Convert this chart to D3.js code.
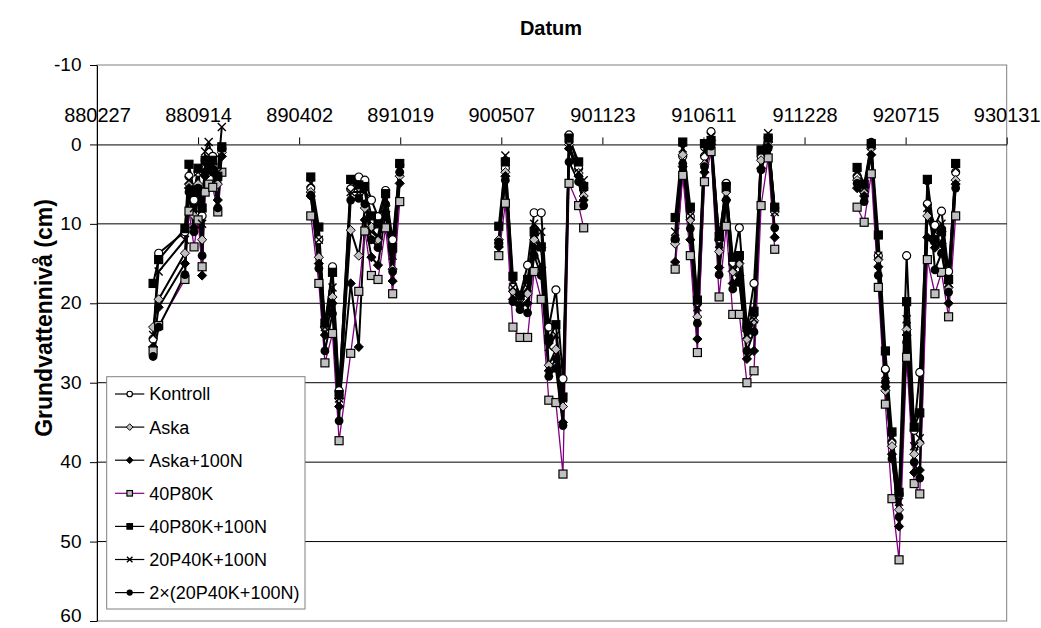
<!DOCTYPE html>
<html>
<head>
<meta charset="utf-8">
<script src="https://cdn.jsdelivr.net/npm/d3@7"></script>
<style>
  body { margin: 0; background: #fff; }
  svg { display: block; }
  text { font-family: Arial, "Liberation Sans", sans-serif; }
</style>
</head>
<body>
<svg id="chart" width="1041" height="628"></svg>
<script>
// Measurement dates (YYMMDD); null marks the break between seasons
const dates = [
  "880617","880628","880819","880827","880906","880914","880922","880928","881005","881013","881023","881031", null,
  "890425","890511","890523","890607","890620","890713","890729","890810","890823","890905","890920","891004","891018", null,
  "900502","900515","900530","900613","900628","900711","900725","900809","900823","900906","900918","901007","901017", null,
  "910416","910501","910516","910530","910613","910626","910712","910726","910808","910821","910905","910919","911003","911017","911030", null,
  "920410","920424","920508","920522","920605","920618","920702","920717","920801","920812","920827","920911","920924","921008","921022"
];

// Groundwater level below surface (cm) per treatment
const kontroll = [
  24.5,13.7,11,4,7,3.5,9,2,1,1.5,4,0.5, null,
  5.5,12,23,15.4,31,5.6,4.1,4.5,7,9.1,5.8,12,2.6, null,
  12.5,3,18,19,15.2,8.6,8.6,23,18.3,29.5,-1.2,3,5.5, null,
  12,1.5,9.1,20,1.5,-1.6,12,4.9,15,10.5,23,17.5,1.5,-0.8,8, null,
  4,5.5,0,14,28.3,37.5,44,14,36,28.7,7.5,10.2,8.4,16,3.5
];
const aska = [
  23,19.5,13.7,5,9,5,12,3,2.5,2.5,5,1, null,
  6,14.2,23,19.2,32,10.8,14,8,10.4,12,7.7,15.7,4, null,
  12,3.5,18.5,19.5,18.8,12,13,27.8,25.8,33,0,3.6,6.5, null,
  12.5,1.3,9.5,21.7,2.5,-0.5,13.5,6,16,15,24.5,22.2,2,-0.3,8.5, null,
  4.5,6,0.5,14.5,31,38,46,23.3,39,37.6,9,12,11,18,4.5
];
const askaN = [
  25.5,20.5,15,5.5,10.5,6,16.5,4,3,3,7,1.5, null,
  6.5,15,24,20,33,17.5,25.5,9.5,14.2,15.2,8.5,17.2,4.9, null,
  12.9,4,19.5,20.3,20,13,15.5,28.5,27,35,0.5,4,7, null,
  14.8,2.8,12,24.5,3.5,0,15.5,7,17.5,16.5,27,26,3,0.3,11.7, null,
  5.5,6.5,1.3,15.4,30.5,39,48.1,24,41.3,41,11.7,13,12.5,20,5
];
const p40k80 = [
  26,22.8,17,8.4,12.9,9.5,15.4,6,5,5.4,8.5,3.5, null,
  9,17.5,27.5,23.8,37.3,26.3,18.5,10.9,16.5,17,10.5,18.8,7.2, null,
  14,7.4,23,24.3,24.3,16,19.5,32.2,32.5,41.5,4.9,7.7,10.5, null,
  15.7,3.9,14,26.2,4.7,0.9,19.2,10.3,21.4,21.4,30,28.5,7.7,1.7,13.2, null,
  7.9,9.8,3.7,18,32.7,44.6,52.3,26.8,42.7,44,14.5,18.8,16.1,21.7,9
];
const p40k80N = [
  17.5,14.5,10.6,2.5,6,3,8,2,2.5,2,4,0.3, null,
  4.1,10.4,22.5,16.1,31.5,4.4,5.1,5.3,9,10,6.2,13,2.4, null,
  10.3,2.2,16.6,19,17,11,12.9,24.5,22.7,31.8,-0.8,2.2,5.3, null,
  9.2,-0.3,7.9,19.6,-0.1,-0.5,11.6,5.3,14.2,14,23,21,0.7,-0.8,7.9, null,
  2.9,5,-0.1,11.4,26,36.2,43.8,19.8,35.6,33.8,4.4,12,11,17,2.4
];
const p20k40N = [
  24,16,12,4.5,8,3.5,10,0.9,-0.3,2,3.5,-2.2, null,
  4.9,12,23,18,32,6,6,6,11,11.5,7,14,3, null,
  12.5,1.4,18,19.5,18,10,11,25.5,24,32,0.2,3.5,4.5, null,
  11,0.5,9,20.5,1,-1,12.5,5.5,15.5,14.5,24,22,1,-1.4,8.5, null,
  3.5,5.5,0.2,14,29,37,45,22,38,37,8,11,10,17.5,3
];
const dubbel = [
  26.7,23,16.4,6,11,5.5,14,3.5,3,3.5,8,0.5, null,
  6.4,15.6,26,21.3,34.8,7,6.8,7.5,12,13,7.5,16,3.5, null,
  12.3,4.5,19.8,20.8,21.2,14,16.5,29.2,28.2,35.4,2.2,4.7,7.7, null,
  11.9,2.4,10.6,22.5,2.8,0.2,16.4,7,18.2,17.4,26,23.6,3.2,0.5,10.5, null,
  4.9,7.2,-0.3,16.5,29.9,39.6,46.9,24.9,40,42,4.6,15.8,13.7,18.6,5.5
];

const seriesNames = ["Kontroll","Aska","Aska+100N","40P80K","40P80K+100N","20P40K+100N","2×(20P40K+100N)"];
const seriesValues = [kontroll, aska, askaN, p40k80, p40k80N, p20k40N, dubbel];
const markerTypes = ["openCircle","grayDiamond","blackDiamond","graySquare","blackSquare","cross","dot"];
const lineColors = ["#000","#000","#000","#800080","#000","#000","#000"];

const xTickLabels = ["880227","880914","890402","891019","900507","901123","910611","911228","920715","930131"];
const yTicks = [-10,0,10,20,30,40,50,60];
const gridValues = [10,20,30,40,50];

const parse = d3.utcParse("%y%m%d");
const fmt = d3.utcFormat("%y%m%d");

const svg = d3.select("#chart");
const plotLeft = 97, plotRight = 1006.7, plotTop = 65, plotBottom = 621;

const x = d3.scaleUtc()
  .domain([parse(xTickLabels[0]), parse(xTickLabels[xTickLabels.length - 1])])
  .range([plotLeft, plotRight]);
const y = d3.scaleLinear().domain([-10, 60]).range([plotTop, plotBottom]);

// plot area frame
svg.append("rect")
  .attr("x", plotLeft).attr("y", plotTop)
  .attr("width", plotRight - plotLeft).attr("height", plotBottom - plotTop)
  .attr("fill", "#fff").attr("stroke", "#808080").attr("stroke-width", 1);

// horizontal gridlines
svg.append("g").selectAll("line").data(gridValues).join("line")
  .attr("x1", plotLeft).attr("x2", plotRight)
  .attr("y1", d => y(d)).attr("y2", d => y(d))
  .attr("stroke", "#000").attr("stroke-width", 1);

// y axis (reversed: depth grows downward)
const yAxis = svg.append("g")
  .attr("transform", `translate(${plotLeft},0)`)
  .call(d3.axisLeft(y).tickValues(yTicks).tickFormat(d => String(d))
    .tickSize(7).tickSizeOuter(0).tickPadding(8.5));
yAxis.selectAll("text").attr("font-size", 19).attr("fill", "#000")
  .attr("dy", d => d === 60 ? "0.05em" : "0.3em");   // lift the bottom label so it stays on the page
yAxis.select(".domain").attr("stroke", "#000");

// date axis drawn along the zero line, labels above
const xAxis = svg.append("g")
  .attr("transform", `translate(0,${y(0)})`)
  .call(d3.axisTop(x).tickValues(xTickLabels.map(parse)).tickFormat(fmt)
    .tickSize(7).tickSizeOuter(0).tickPadding(15.5));
xAxis.selectAll("text").attr("font-size", 20).attr("fill", "#000");
xAxis.select(".domain").attr("stroke", "#000");

// titles
svg.append("text")
  .attr("x", 551).attr("y", 35)
  .attr("text-anchor", "middle")
  .attr("font-size", 20).attr("font-weight", "bold")
  .text("Datum");
svg.append("text")
  .attr("transform", "translate(52,318) rotate(-90)")
  .attr("text-anchor", "middle")
  .attr("font-size", 23).attr("font-weight", "bold")
  .text("Grundvattennivå (cm)");

// series records
const series = seriesNames.map((name, i) => ({
  name,
  marker: markerTypes[i],
  color: lineColors[i],
  points: dates.map((d, j) => ({ date: d ? parse(d) : null, v: seriesValues[i][j] }))
}));

const line = d3.line()
  .defined(p => p.date && p.v != null)
  .x(p => x(p.date))
  .y(p => y(p.v));

function drawMarker(g, type, s) {
  const r = s / 2;
  switch (type) {
    case "openCircle":
      g.append("circle").attr("r", r).attr("fill", "#fff").attr("stroke", "#000").attr("stroke-width", 1.2);
      break;
    case "dot":
      g.append("circle").attr("r", r + 0.4).attr("fill", "#000");
      break;
    case "grayDiamond":
    case "blackDiamond":
      g.append("path")
        .attr("d", `M0,${-r - 0.6}L${r + 0.6},0L0,${r + 0.6}L${-r - 0.6},0Z`)
        .attr("fill", type === "grayDiamond" ? "#c0c0c0" : "#000")
        .attr("stroke", "#000").attr("stroke-width", 1);
      break;
    case "graySquare":
    case "blackSquare":
      g.append("rect").attr("x", -r).attr("y", -r).attr("width", s).attr("height", s)
        .attr("fill", type === "graySquare" ? "#c0c0c0" : "#000")
        .attr("stroke", "#000").attr("stroke-width", 1.2);
      break;
    case "cross":
      g.append("path")
        .attr("d", `M${-r},${-r}L${r},${r}M${-r},${r}L${r},${-r}`)
        .attr("stroke", "#000").attr("stroke-width", 1.4).attr("fill", "none");
      break;
  }
}

// lines, then markers on top
const plot = svg.append("g");
series.forEach(s => {
  plot.append("path")
    .attr("d", line(s.points))
    .attr("fill", "none")
    .attr("stroke", s.color)
    .attr("stroke-width", s.color === "#000" ? 2 : 1.3)
    .attr("stroke-linejoin", "round");
});
series.forEach(s => {
  s.points.filter(p => p.date && p.v != null).forEach(p => {
    const g = plot.append("g").attr("transform", `translate(${x(p.date)},${y(p.v)})`);
    drawMarker(g, s.marker, 8);
  });
});

// legend
const lg = svg.append("g");
lg.append("rect")
  .attr("x", 106.7).attr("y", 376.7).attr("width", 198.3).attr("height", 232.3)
  .attr("fill", "#fff").attr("stroke", "#808080").attr("stroke-width", 1);
series.forEach((s, i) => {
  const yy = 394 + i * 33.1;
  const row = lg.append("g").attr("transform", `translate(0,${yy})`);
  row.append("line").attr("x1", 115).attr("x2", 144.3).attr("y1", 0).attr("y2", 0)
    .attr("stroke", s.color).attr("stroke-width", 1.2);
  const m = row.append("g").attr("transform", "translate(129.7,0)");
  drawMarker(m, s.marker, 5.5);
  row.append("text").attr("x", 149.3).attr("y", 0).attr("dy", "0.36em")
    .attr("font-size", 18).text(s.name);
});
</script>
</body>
</html>
